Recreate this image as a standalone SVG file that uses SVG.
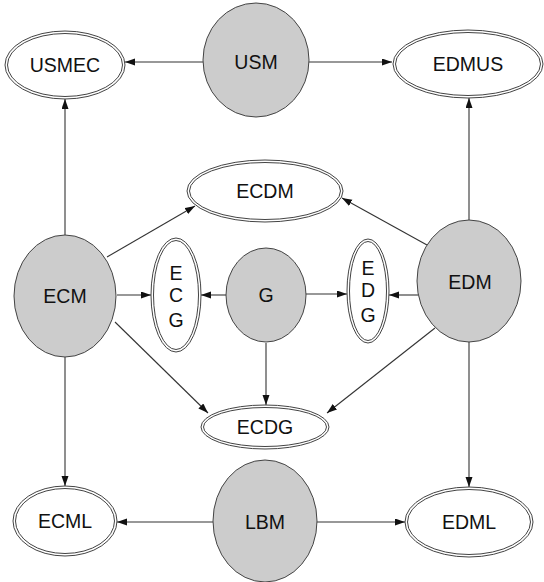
<svg xmlns="http://www.w3.org/2000/svg" width="544" height="582" viewBox="0 0 544 582">
<defs>
<style>
.bg{fill:#ffffff}
.gray{fill:#cccccc;stroke:#444444;stroke-width:1}
.dbl{fill:#ffffff;stroke:#444444;stroke-width:1}
.lbl{font-family:"Liberation Sans",Arial,sans-serif;font-size:19.5px;fill:#111111;text-anchor:middle}
.edge{fill:none;stroke:#333333;stroke-width:1.1;marker-end:url(#arr)}
</style>
<marker id="arr" markerUnits="userSpaceOnUse" markerWidth="11" markerHeight="8" refX="10" refY="3.5" orient="auto">
<path d="M0,0 L10,3.5 L0,7 z" fill="#111111"/>
</marker>
</defs>
<rect class="bg" x="0" y="0" width="544" height="582"/>
<g id="connectors">
<path class="edge" d="M203,62 L125,62"/>
<path class="edge" d="M309,62 L392,62"/>
<path class="edge" d="M65,235 L65,99"/>
<path class="edge" d="M469,220 L469,98"/>
<path class="edge" d="M107,257 L195,206"/>
<path class="edge" d="M427,245 L342,198"/>
<path class="edge" d="M117,295 L151,295"/>
<path class="edge" d="M227,295 L201,295"/>
<path class="edge" d="M306,294 L347,294"/>
<path class="edge" d="M418,295 L389,295"/>
<path class="edge" d="M115,322 L208,413"/>
<path class="edge" d="M435,328 L327,413"/>
<path class="edge" d="M266,343 L266,405"/>
<path class="edge" d="M65,357 L65,486"/>
<path class="edge" d="M469,342 L469,487"/>
<path class="edge" d="M213,522 L117,522"/>
<path class="edge" d="M317,522 L405,522"/>
</g>
<g id="USMEC"><ellipse class="dbl" cx="65" cy="65" rx="60" ry="34"/><ellipse class="dbl" cx="65" cy="65" rx="57.5" ry="31.5"/><text class="lbl" x="65" y="72">USMEC</text></g>
<g id="USM"><ellipse class="gray" cx="256" cy="60" rx="53" ry="57"/><text class="lbl" x="256" y="69">USM</text></g>
<g id="EDMUS"><ellipse class="dbl" cx="468" cy="64" rx="75" ry="34"/><ellipse class="dbl" cx="468" cy="64" rx="72.5" ry="31.5"/><text class="lbl" x="468" y="71">EDMUS</text></g>
<g id="ECDM"><ellipse class="dbl" cx="265" cy="191" rx="78" ry="31"/><ellipse class="dbl" cx="265" cy="191" rx="75.5" ry="28.5"/><text class="lbl" x="265" y="198">ECDM</text></g>
<g id="ECM"><ellipse class="gray" cx="65" cy="296" rx="51" ry="61"/><text class="lbl" x="65" y="303">ECM</text></g>
<g id="ECG"><ellipse class="dbl" cx="176" cy="295" rx="25" ry="57"/><ellipse class="dbl" cx="176" cy="295" rx="22.5" ry="54.5"/><text class="lbl" x="176" y="280">E</text><text class="lbl" x="176" y="302">C</text><text class="lbl" x="176" y="327">G</text></g>
<g id="G"><ellipse class="gray" cx="266" cy="295" rx="40" ry="47"/><text class="lbl" x="266" y="302">G</text></g>
<g id="EDG"><ellipse class="dbl" cx="368" cy="291" rx="21" ry="52"/><ellipse class="dbl" cx="368" cy="291" rx="18.5" ry="49.5"/><text class="lbl" x="368" y="275">E</text><text class="lbl" x="368" y="297">D</text><text class="lbl" x="368" y="322">G</text></g>
<g id="EDM"><ellipse class="gray" cx="469" cy="281" rx="52" ry="61"/><text class="lbl" x="470" y="289">EDM</text></g>
<g id="ECDG"><ellipse class="dbl" cx="265" cy="427" rx="64" ry="22"/><ellipse class="dbl" cx="265" cy="427" rx="61.5" ry="19.5"/><text class="lbl" x="265" y="434">ECDG</text></g>
<g id="ECML"><ellipse class="dbl" cx="65" cy="521" rx="52" ry="35"/><ellipse class="dbl" cx="65" cy="521" rx="49.5" ry="32.5"/><text class="lbl" x="65" y="528">ECML</text></g>
<g id="LBM"><ellipse class="gray" cx="265" cy="521" rx="52" ry="61"/><text class="lbl" x="265" y="529">LBM</text></g>
<g id="EDML"><ellipse class="dbl" cx="469" cy="522" rx="64" ry="35"/><ellipse class="dbl" cx="469" cy="522" rx="61.5" ry="32.5"/><text class="lbl" x="469" y="529">EDML</text></g>
</svg>
